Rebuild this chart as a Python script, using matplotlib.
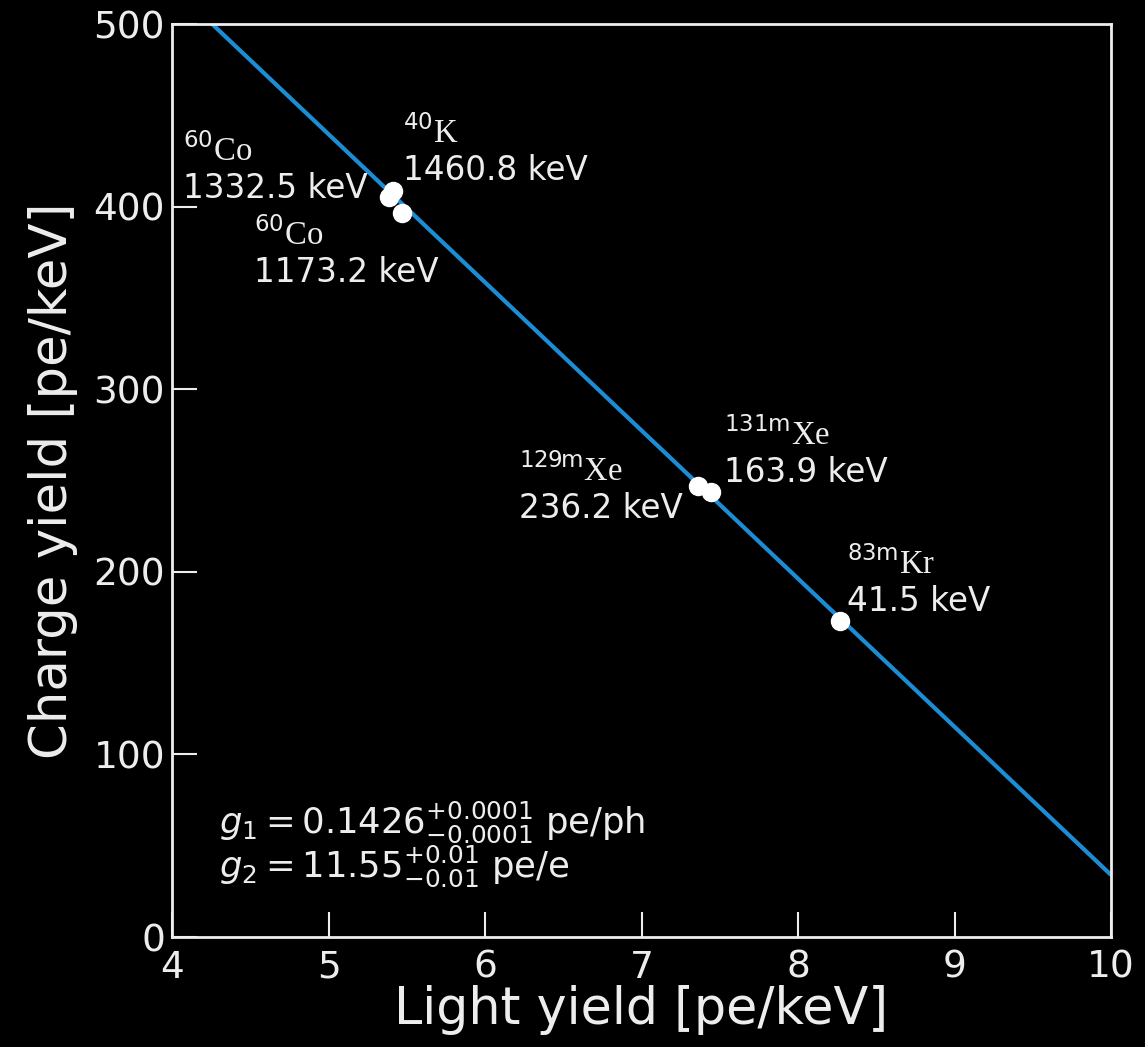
import matplotlib
matplotlib.use("Agg")
import matplotlib.pyplot as plt

# Calibration peaks: light yield vs charge yield [pe/keV]
isotopes = [r"^{\mathsf{60}}\mathrm{Co}", r"^{\mathsf{40}}\mathrm{K}", r"^{\mathsf{60}}\mathrm{Co}",
            r"^{\mathsf{129m}}\mathrm{Xe}", r"^{\mathsf{131m}}\mathrm{Xe}", r"^{\mathsf{83m}}\mathrm{Kr}"]
energies = ["1332.5 keV", "1460.8 keV", "1173.2 keV", "236.2 keV", "163.9 keV", "41.5 keV"]
light_yield = [5.387, 5.412, 5.468, 7.363, 7.444, 8.268]
charge_yield = [405.3, 408.5, 396.3, 247.0, 243.9, 173.1]

# Doke-plot fit line (end points over the x range)
fit_ly = [4.0, 10.0]
fit_cy = [520.8, 34.0]

# Label anchors (left edge, baseline of the energy line) in data coordinates
label_x = [4.070, 5.476, 4.524, 6.217, 7.527, 8.313]
label_y = [404.7, 414.6, 358.7, 229.5, 249.2, 178.5]

x_ticks = [4, 5, 6, 7, 8, 9, 10]
y_ticks = [0, 100, 200, 300, 400, 500]

plt.rcParams["font.family"] = ["DejaVu Sans"]
plt.rcParams["mathtext.fontset"] = "custom"
plt.rcParams["mathtext.rm"] = "Liberation Serif"
plt.rcParams["mathtext.sf"] = "DejaVu Sans"
plt.rcParams["mathtext.it"] = "DejaVu Sans:italic"
plt.rcParams["mathtext.bf"] = "DejaVu Sans:bold"

fg = "#ededed"

fig = plt.figure(figsize=(11.45, 10.47), dpi=100, facecolor="black")
ax = fig.add_axes([172 / 1145, 1 - 937 / 1047, (1111 - 172) / 1145, (937 - 24) / 1047])
ax.set_facecolor("black")

ax.plot(fit_ly, fit_cy, color="#1c8dd4", lw=3.0, zorder=2, solid_capstyle="butt")
ax.plot(light_yield, charge_yield, "o", color="white", ms=13, mec="white", zorder=3, clip_on=False)

line_gap = 37 / 1.826  # vertical gap between the two label lines, in data units
for iso, en, lx, ly in zip(isotopes, energies, label_x, label_y):
    ax.text(lx, ly, en, color=fg, fontsize=23.5, ha="left", va="baseline")
    ax.text(lx, ly + line_gap, "$" + iso + "$", color=fg, fontsize=23.5,
            ha="left", va="baseline")

ax.text(4.3, 57.0, r"$g_1 = 0.1426^{+0.0001}_{-0.0001}$ pe/ph", color=fg,
        fontsize=25.5, ha="left", va="baseline", math_fontfamily="dejavusans")
ax.text(4.3, 32.8, r"$g_2 = 11.55^{+0.01}_{-0.01}$ pe/e", color=fg,
        fontsize=25.5, ha="left", va="baseline", math_fontfamily="dejavusans")

ax.set_xlim(4, 10)
ax.set_ylim(0, 500)
ax.set_xticks(x_ticks)
ax.set_yticks(y_ticks)
ax.set_xticklabels([str(t) for t in x_ticks])
ax.set_yticklabels([str(t) for t in y_ticks])

for side in ["left", "right", "top", "bottom"]:
    ax.spines[side].set_color(fg)
    ax.spines[side].set_linewidth(2)

ax.tick_params(axis="both", which="major", direction="in", length=18, width=1.5,
               colors=fg, labelsize=27, top=False, right=False)
ax.tick_params(axis="x", pad=9)
ax.tick_params(axis="y", pad=5)

ax.set_xlabel("Light yield [pe/keV]", color=fg, fontsize=36.5)
ax.set_ylabel("Charge yield [pe/keV]", color=fg, fontsize=37)
ax.xaxis.set_label_coords(0.5, -0.0526)
ax.yaxis.set_label_coords(-0.100, 0.5)

fig.savefig("out.png", dpi=100, facecolor="black")
